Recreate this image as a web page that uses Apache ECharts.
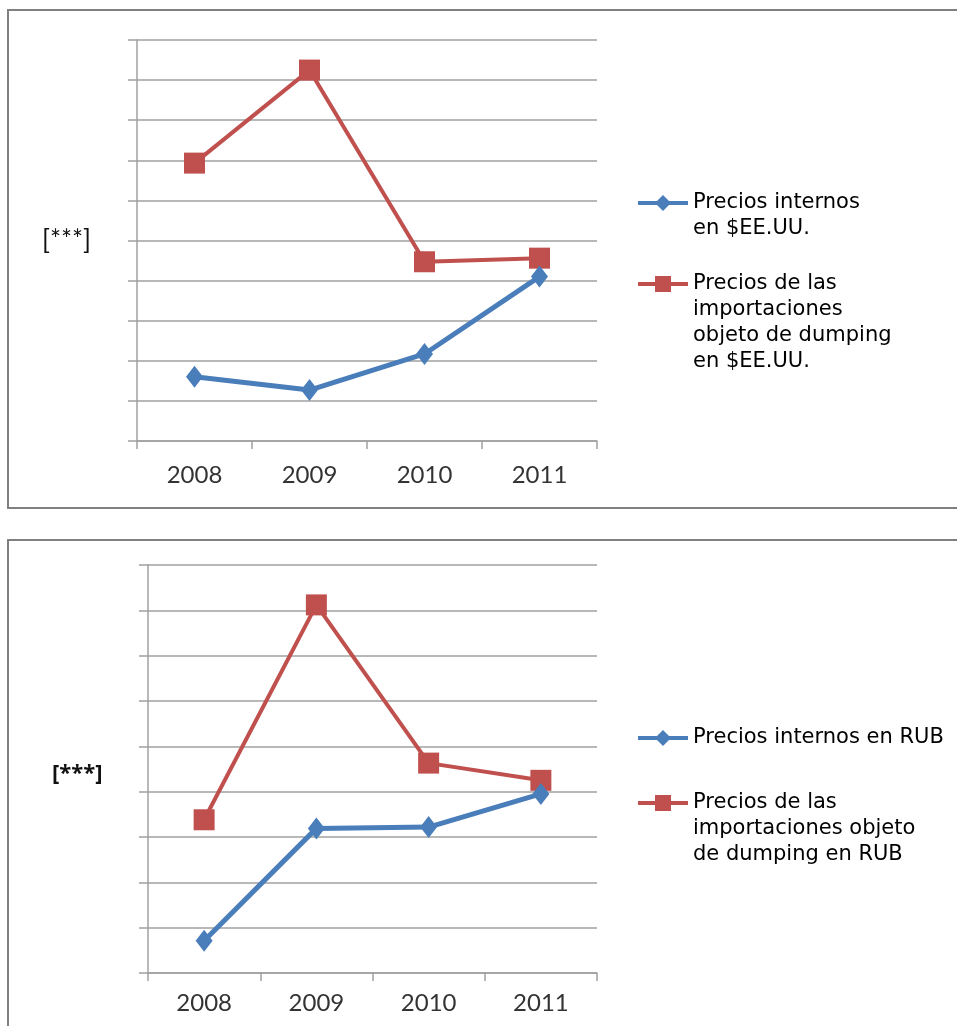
<!DOCTYPE html>
<html>
<head>
<meta charset="utf-8">
<script src="https://cdn.jsdelivr.net/npm/echarts@6/dist/echarts.min.js"></script>
<style>
  html, body { margin: 0; padding: 0; background: #fff; }
  #chart { width: 957px; height: 1026px; }
</style>
</head>
<body>
<div id="chart"></div>
<script>
// Years shown on both panels
const years = ['2008', '2009', '2010', '2011'];

// Upper panel: prices in US dollars (indexed, undisclosed scale)
const usdDomestic = [1.6, 1.27, 2.17, 4.1];
const usdImports = [6.93, 9.25, 4.47, 4.56];

// Lower panel: prices in roubles (indexed, undisclosed scale)
const rubDomestic = [0.71, 3.19, 3.22, 3.95];
const rubImports = [3.38, 8.12, 4.63, 4.25];

// Legend names
const usdNames = ['Precios internos\nen $EE.UU.', 'Precios de las\nimportaciones\nobjeto de dumping\nen $EE.UU.'];
const rubNames = ['Precios internos en RUB', 'Precios de las\nimportaciones objeto\nde dumping en RUB'];

const BLUE = '#4a7ebb';
const RED = '#c0504d';
const GRID = '#a0a0a0';
const LABEL_FONT = 'Lato, "Liberation Sans", sans-serif';
const LEGEND_FONT = '"DejaVu Sans", Verdana, sans-serif';
const LH = 26;

function xAxisFor(gridIndex, margin) {
  return {
    type: 'category', gridIndex, data: years, boundaryGap: true,
    axisLine: { lineStyle: { color: GRID, width: 1.5 } },
    axisTick: { show: true, length: 8, alignWithLabel: false, lineStyle: { color: GRID, width: 1.5 } },
    axisLabel: { color: '#333', fontFamily: LABEL_FONT, fontSize: 24, margin }
  };
}
function yAxisFor(gridIndex, max) {
  return {
    type: 'value', gridIndex, min: 0, max, interval: 1,
    axisLine: { show: true, lineStyle: { color: GRID, width: 1.5 } },
    axisTick: { show: true, length: 9, lineStyle: { color: GRID, width: 1.5 } },
    axisLabel: { show: false },
    splitLine: { show: true, lineStyle: { color: GRID, width: 1.5 } }
  };
}
function lineSeries(name, data, idx, color, symbol, size, width) {
  return {
    type: 'line', name, data, xAxisIndex: idx, yAxisIndex: idx,
    symbol, symbolSize: size, showSymbol: true,
    itemStyle: { color },
    lineStyle: { color, width },
    animation: false, z: symbol === 'diamond' ? 3 : 2
  };
}
// One legend block per entry; leading blank lines keep the icon beside the first text line
function legendFor(name, iconY, lines) {
  const blockH = (2 * lines - 1) * LH;
  return {
    show: true, left: 636, top: iconY - blockH / 2, orient: 'vertical', padding: 0,
    itemWidth: 50, itemHeight: 20, itemGap: 0,
    selectedMode: false,
    data: [name],
    formatter: n => '\n'.repeat(lines - 1) + n,
    lineStyle: { width: 4 },
    textStyle: { fontFamily: LEGEND_FONT, fontSize: 21, color: '#000', lineHeight: LH }
  };
}

const chart = echarts.init(document.getElementById('chart'), null, { renderer: 'canvas' });
chart.setOption({
  animation: false,
  backgroundColor: '#fff',
  grid: [
    { left: 137, top: 40, width: 460, height: 401 },
    { left: 148, top: 565, width: 449, height: 408 }
  ],
  xAxis: [xAxisFor(0, 22), xAxisFor(1, 18)],
  yAxis: [yAxisFor(0, 10), yAxisFor(1, 9)],
  legend: [
    legendFor(usdNames[0], 203, 2),
    legendFor(usdNames[1], 284, 4),
    legendFor(rubNames[0], 738, 1),
    legendFor(rubNames[1], 803, 3)
  ],
  series: [
    lineSeries(usdNames[1], usdImports, 0, RED, 'rect', 21, 4),
    lineSeries(usdNames[0], usdDomestic, 0, BLUE, 'diamond', [17, 22], 5),
    lineSeries(rubNames[1], rubImports, 1, RED, 'rect', 21, 4),
    lineSeries(rubNames[0], rubDomestic, 1, BLUE, 'diamond', [17, 22], 5)
  ],
  graphic: [
    { type: 'rect', shape: { x: 8, y: 10, width: 960, height: 498 }, style: { fill: 'none', stroke: '#808080', lineWidth: 2 }, silent: true },
    { type: 'rect', shape: { x: 8, y: 540, width: 960, height: 520 }, style: { fill: 'none', stroke: '#808080', lineWidth: 2 }, silent: true },
    { type: 'text', left: 42, top: 228, style: { text: '[***]', font: '26px Lato, sans-serif', fill: '#111' }, silent: true },
    { type: 'text', left: 52, top: 763, style: { text: '[***]', font: 'bold 22px "Open Sans", sans-serif', fill: '#111' }, silent: true }
  ]
});
</script>
</body>
</html>
